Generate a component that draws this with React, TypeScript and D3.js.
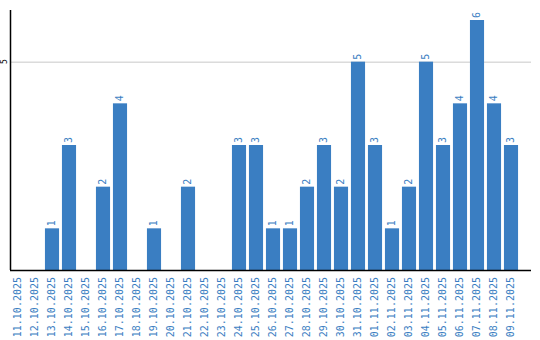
import React from "react";
import * as d3 from "d3";

const dates = [
  "11.10.2025","12.10.2025","13.10.2025","14.10.2025","15.10.2025","16.10.2025","17.10.2025","18.10.2025","19.10.2025","20.10.2025",
  "21.10.2025","22.10.2025","23.10.2025","24.10.2025","25.10.2025","26.10.2025","27.10.2025","28.10.2025","29.10.2025","30.10.2025",
  "31.10.2025","01.11.2025","02.11.2025","03.11.2025","04.11.2025","05.11.2025","06.11.2025","07.11.2025","08.11.2025","09.11.2025",
];
const counts = [0,0,1,3,0,2,4,0,1,0,2,0,0,3,3,1,1,2,3,2,5,3,1,2,5,3,4,6,4,3];
const yTicks = [5];

const W = 540, H = 340;
const BLUE = "#3a7ec2";
const FONT = "'DejaVu Sans Mono', monospace";

export default function App() {
  const x = d3.scaleBand<string>().domain(dates).range([9.5, 519.5]).paddingInner(0.17).paddingOuter(0.085);
  const y = d3.scaleLinear().domain([0, 6.24]).range([270, 10]);
  return (
    <svg width={W} height={H} style={{ position: "absolute", left: 0, top: 0, background: "#fff" }}>
      {yTicks.map((t) => (
        <g key={t}>
          <line x1={11} x2={531} y1={y(t) + 0.5} y2={y(t) + 0.5} stroke="#c8c8c8" strokeWidth={1} />
          <text transform={`translate(4,${y(t)}) rotate(-90)`} textAnchor="middle" dominantBaseline="middle" fontSize={8} fontFamily={FONT} fill="#000">{t}</text>
        </g>
      ))}
      {dates.map((d, i) => {
        const v = counts[i];
        const bx = x(d)!;
        const cx = bx + x.bandwidth() / 2;
        return (
          <g key={d}>
            {v > 0 && (
              <>
                <rect x={bx} y={y(v)} width={x.bandwidth()} height={y(0) - y(v)} fill={BLUE} />
                <text transform={`translate(${cx},${y(v) - 2}) rotate(-90)`} textAnchor="start" dominantBaseline="middle" fontSize={10} fontFamily={FONT} fill={BLUE}>{v}</text>
              </>
            )}
            <text transform={`translate(${cx},${277}) rotate(-90)`} textAnchor="end" dominantBaseline="middle" fontSize={10} fontFamily={FONT} fill={BLUE}>{d}</text>
          </g>
        );
      })}
      <line x1={10.5} x2={10.5} y1={10} y2={270} stroke="#000" strokeWidth={1.5} />
      <line x1={10} x2={531} y1={270.5} y2={270.5} stroke="#000" strokeWidth={1.5} />
    </svg>
  );
}
